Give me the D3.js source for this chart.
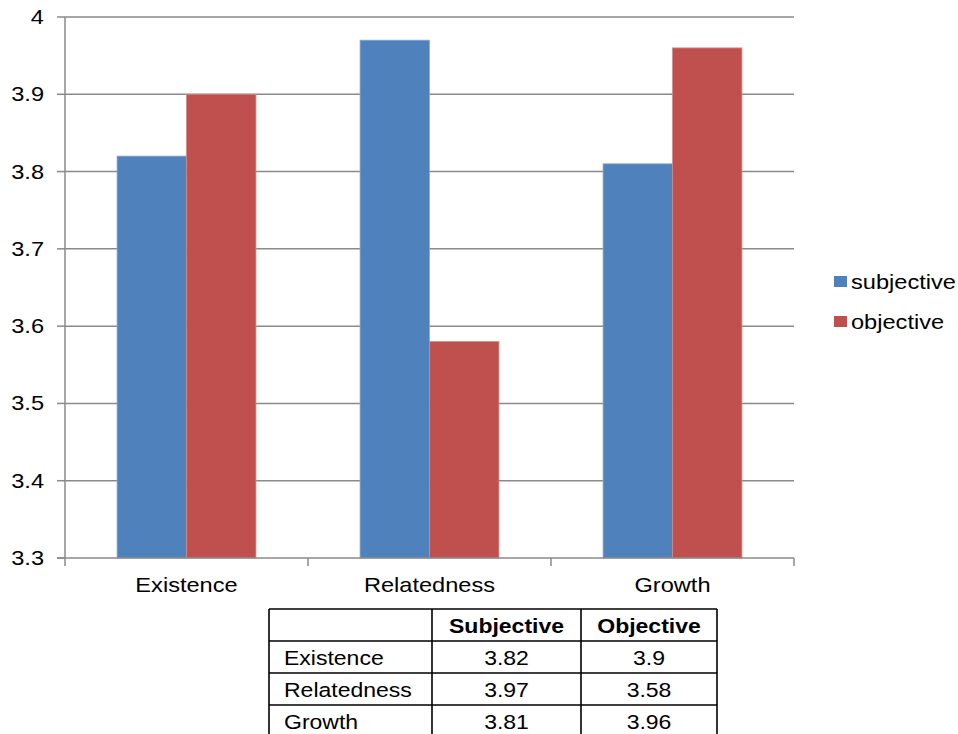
<!DOCTYPE html>
<html>
<head>
<meta charset="utf-8">
<script src="https://cdn.jsdelivr.net/npm/d3@7"></script>
<style>
  body { margin: 0; background: #fff; }
  text { font-family: "Liberation Sans", Arial, sans-serif; fill: #000; }
</style>
</head>
<body>
<script>
// chart data
var categories = ["Existence", "Relatedness", "Growth"];
var subjective = [3.82, 3.97, 3.81];
var objective = [3.9, 3.58, 3.96];
var seriesNames = ["subjective", "objective"];
var tableHeaders = ["", "Subjective", "Objective"];
var yTicks = [3.3, 3.4, 3.5, 3.6, 3.7, 3.8, 3.9, 4];

window.onload = drawChart();

function drawChart(){
    var width = 958,
        height = 734;
    var colors = ["#4F81BD", "#C0504D"];
    var sx = 1.18; // the original text is stretched a bit sideways

    var svg = d3.select("body")
        .append("svg")
        .attr("width", width)
        .attr("height", height);

    // place text with the horizontal stretch
    function label(g, str, x, y, anchor, bold, size){
        return g.append("text")
            .attr("transform", "translate(" + x + "," + y + ") scale(" + sx + ",1)")
            .attr("text-anchor", anchor)
            .style("font-size", (size || 20) + "px")
            .style("font-weight", bold ? "bold" : "normal")
            .text(str);
    }

    var left = 65, right = 794, top = 17, bottom = 558;

    var x = d3.scaleBand()
        .domain(categories)
        .range([left, right]);

    var x1 = d3.scaleBand()
        .domain(seriesNames)
        .range([0, x.bandwidth()])
        .paddingOuter(0.75);

    var y = d3.scaleLinear()
        .domain([3.3, 4])
        .range([bottom, top]);

    //gridlines
    svg.selectAll(".grid")
        .data(yTicks.slice(1))
        .enter()
        .append("line")
        .attr("x1", left)
        .attr("x2", right)
        .attr("y1", function(d){ return y(d); })
        .attr("y2", function(d){ return y(d); })
        .attr("stroke", "#8a8a8a")
        .attr("stroke-width", 1.5);

    //bars
    var rows = categories.map(function(c, i){
        return { cat: c, vals: [subjective[i], objective[i]] };
    });

    var groups = svg.selectAll(".cat")
        .data(rows)
        .enter()
        .append("g")
        .attr("transform", function(d){ return "translate(" + x(d.cat) + ",0)"; });

    groups.selectAll("rect")
        .data(function(d){ return d.vals.map(function(v, j){ return { s: seriesNames[j], v: v, j: j }; }); })
        .enter()
        .append("rect")
        .attr("x", function(d){ return x1(d.s); })
        .attr("width", x1.bandwidth())
        .attr("y", function(d){ return y(d.v); })
        .attr("height", function(d){ return y(3.3) - y(d.v); })
        .attr("fill", function(d){ return colors[d.j]; })
        .attr("stroke", function(d){ return d.j == 0 ? "#8aa8d3" : "#d18a88"; })
        .attr("stroke-width", 0.8);

    //axes lines and ticks
    var axisColor = "#8a8a8a";
    svg.append("line")
        .attr("x1", left).attr("x2", left)
        .attr("y1", top).attr("y2", bottom)
        .attr("stroke", axisColor).attr("stroke-width", 1.5);
    svg.append("line")
        .attr("x1", left - 8).attr("x2", right)
        .attr("y1", bottom).attr("y2", bottom)
        .attr("stroke", axisColor).attr("stroke-width", 1.5);

    svg.selectAll(".ytick")
        .data(yTicks)
        .enter()
        .append("line")
        .attr("x1", left - 8).attr("x2", left)
        .attr("y1", function(d){ return y(d); })
        .attr("y2", function(d){ return y(d); })
        .attr("stroke", axisColor).attr("stroke-width", 1.5);

    var xEdges = categories.map(function(c){ return x(c); }).concat([right]);
    svg.selectAll(".xtick")
        .data(xEdges)
        .enter()
        .append("line")
        .attr("x1", function(d){ return d; })
        .attr("x2", function(d){ return d; })
        .attr("y1", bottom).attr("y2", bottom + 8)
        .attr("stroke", axisColor).attr("stroke-width", 1.5);

    //tick labels
    yTicks.forEach(function(t){
        label(svg, d3.format("")(t), 44, y(t) + 7, "end", false);
    });
    categories.forEach(function(c){
        label(svg, c, x(c) + x.bandwidth() / 2, 592, "middle", false);
    });

    //legend
    seriesNames.forEach(function(s, i){
        var ly = 276 + i * 40;
        svg.append("rect")
            .attr("x", 834).attr("y", ly)
            .attr("width", 13).attr("height", 11)
            .attr("fill", colors[i]);
        label(svg, s, 851, ly + 13, "start", false);
    });

    //data table under the chart
    var colX = [269, 432, 581, 717];
    var rowY = [609, 641, 673, 705, 738];
    var table = svg.append("g");

    rowY.forEach(function(ry){
        table.append("line")
            .attr("x1", colX[0]).attr("x2", colX[3])
            .attr("y1", ry).attr("y2", ry)
            .attr("stroke", "#000").attr("stroke-width", 1.6);
    });
    colX.forEach(function(cx){
        table.append("line")
            .attr("x1", cx).attr("x2", cx)
            .attr("y1", rowY[0]).attr("y2", rowY[4])
            .attr("stroke", "#000").attr("stroke-width", 1.6);
    });

    tableHeaders.forEach(function(h, j){
        if (h) label(table, h, (colX[j] + colX[j + 1]) / 2, rowY[0] + 24, "middle", true, 19.5);
    });
    rows.forEach(function(r, i){
        var ty = rowY[i + 1] + 24;
        label(table, r.cat, colX[0] + 15, ty, "start", false, 19.5);
        r.vals.forEach(function(v, j){
            label(table, String(v), (colX[j + 1] + colX[j + 2]) / 2, ty, "middle", false, 19.5);
        });
    });
}
</script>
</body>
</html>
